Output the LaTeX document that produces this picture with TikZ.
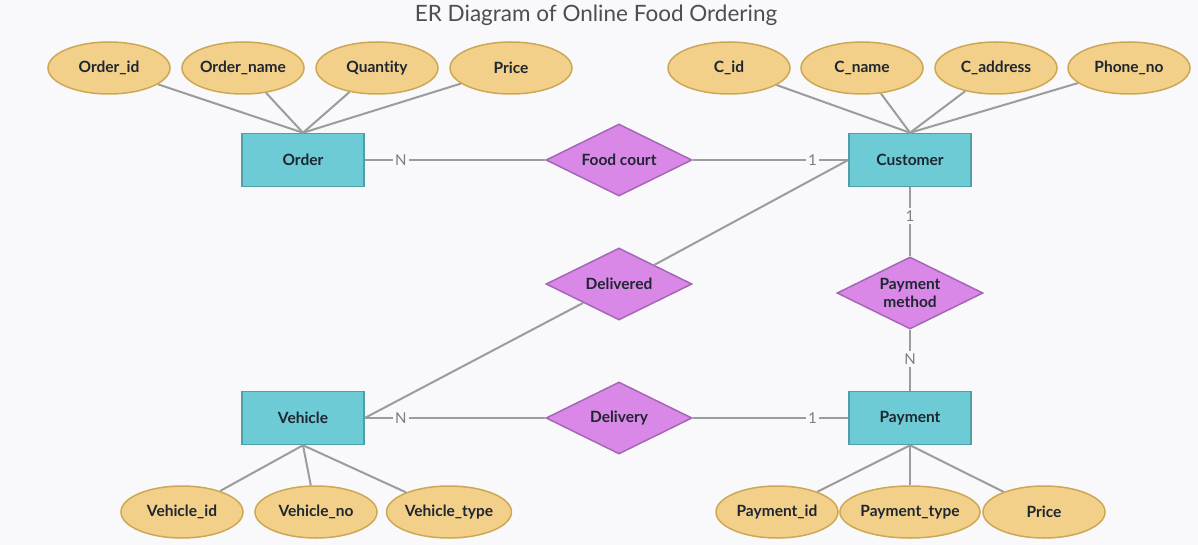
\documentclass[tikz,border=0pt]{standalone}
\usepackage{fontspec}
\setmainfont{Lato}[Ligatures={NoCommon}]
\usetikzlibrary{shapes.geometric}
\definecolor{bg}{HTML}{F9F9FB}
\definecolor{attrfill}{HTML}{F3D08A}
\definecolor{attrline}{HTML}{CDA854}
\definecolor{entfill}{HTML}{6DCBD6}
\definecolor{entline}{HTML}{4F9EA8}
\definecolor{relfill}{HTML}{DA88E8}
\definecolor{relline}{HTML}{A566B6}
\definecolor{conncol}{HTML}{9C9C9C}
\definecolor{txt}{HTML}{1E2630}
\definecolor{titlecol}{HTML}{4E4E4E}
\tikzset{
  attr/.style={ellipse, draw=attrline, fill=attrfill, line width=1.5pt,
    minimum width=122pt, minimum height=52pt, inner sep=0pt,
    text=txt, font=\fontsize{15.5}{17}\selectfont\bfseries},
  ent/.style={rectangle, draw=entline, fill=entfill, line width=1.5pt,
    minimum width=122pt, minimum height=53pt, inner sep=0pt,
    text=txt, font=\fontsize{15.5}{17}\selectfont\bfseries},
  rel/.style={diamond, aspect=2, draw=relline, fill=relfill, line width=1.5pt,
    minimum width=146pt, minimum height=72pt, inner sep=0pt, align=center,
    text=txt, font=\fontsize{15.5}{18}\selectfont\bfseries},
  conn/.style={draw=conncol, line width=2pt},
  card/.style={fill=bg, inner sep=2.5pt, text=conncol!80!black, font=\fontsize{15}{17}\selectfont}
}
\begin{document}
\begin{tikzpicture}[x=1pt,y=-1pt]
\fill[bg] (0,0) rectangle (1198,545);
\useasboundingbox (0,0) rectangle (1198,545);

\node[text=titlecol, font=\fontsize{22.5}{26}\selectfont] (title) at (596,15) {ER Diagram of Online Food Ordering};

% entities
\node[ent] (order) at (303,160) {Order};
\node[ent] (cust) at (910,160) {Customer};
\node[ent] (veh) at (303,418) {Vehicle};
\node[ent] (pay) at (910,418) {Payment};

% relationships
\node[rel] (fc) at (619,160) {Food court};
\node[rel] (dlvd) at (619,284) {Delivered};
\node[rel] (pm) at (910,293) {Payment\\method};
\node[rel] (dlvy) at (619,418) {Delivery};

% attributes
\node[attr] (oid) at (109,68) {Order\_id};
\node[attr] (oname) at (243,68) {Order\_name};
\node[attr] (qty) at (377,68) {Quantity};
\node[attr] (oprice) at (511,68) {Price};
\node[attr] (cid) at (729,68) {C\_id};
\node[attr] (cname) at (862,68) {C\_name};
\node[attr] (caddr) at (996,68) {C\_address};
\node[attr] (phone) at (1129,68) {Phone\_no};
\node[attr] (vid) at (182,512) {Vehicle\_id};
\node[attr] (vno) at (316,512) {Vehicle\_no};
\node[attr] (vtype) at (449,512) {Vehicle\_type};
\node[attr] (pid) at (777,512) {Payment\_id};
\node[attr] (ptype) at (910,512) {Payment\_type};
\node[attr] (pprice) at (1044,512) {Price};

% attribute connectors
\foreach \a in {oid,oname,qty,oprice} \draw[conn] (\a) -- (order.north);
\foreach \a in {cid,cname,caddr,phone} \draw[conn] (\a) -- (cust.north);
\foreach \a in {vid,vno,vtype} \draw[conn] (\a) -- (veh.south);
\foreach \a in {pid,ptype,pprice} \draw[conn] (\a) -- (pay.south);

% relationship connectors
\draw[conn] (order.east) -- node[card, pos=0.2] {N} (fc.west);
\draw[conn] (fc.east) -- node[card, pos=0.77] {1} (cust.west);
\draw[conn] (cust.west) -- (dlvd);
\draw[conn] (dlvd) -- (veh.east);
\draw[conn] (cust.south) -- node[card, pos=0.42] {1} (pm.north);
\draw[conn] (pm.south) -- node[card, pos=0.48] {N} (pay.north);
\draw[conn] (veh.east) -- node[card, pos=0.2] {N} (dlvy.west);
\draw[conn] (dlvy.east) -- node[card, pos=0.77] {1} (pay.west);
\end{tikzpicture}
\end{document}
